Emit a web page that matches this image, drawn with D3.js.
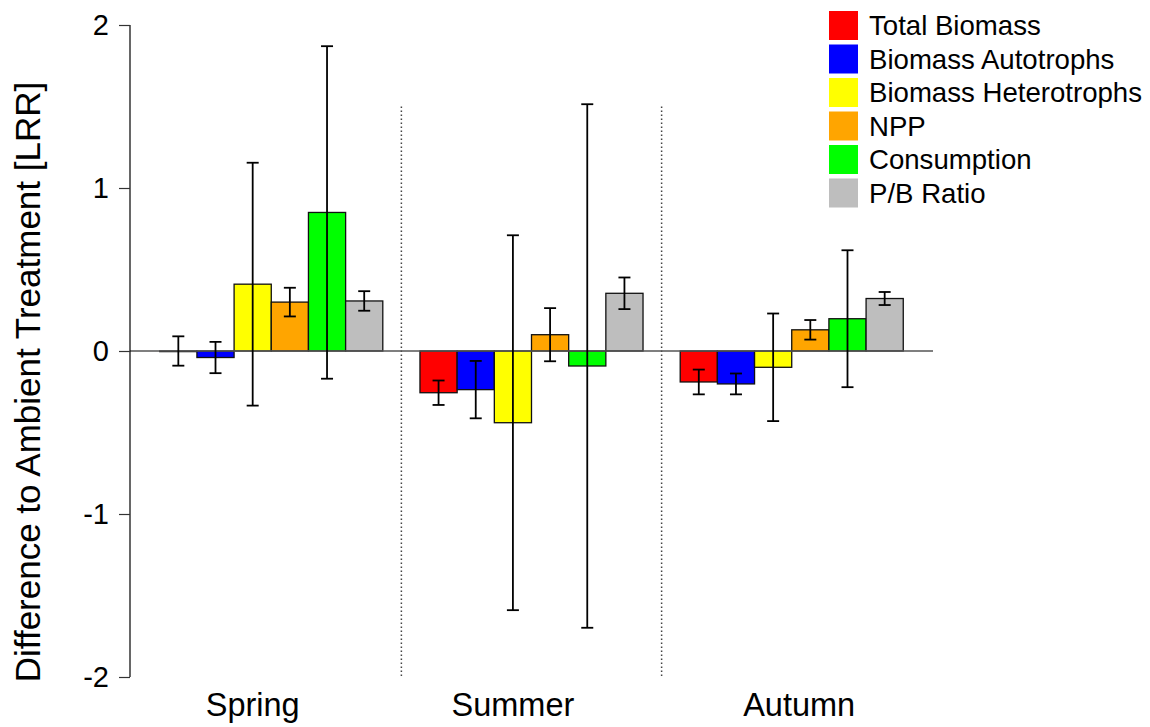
<!DOCTYPE html>
<html>
<head>
<meta charset="utf-8">
<script src="https://cdn.jsdelivr.net/npm/d3@7"></script>
<style>
  html, body { margin: 0; padding: 0; background: #fff; }
  svg { display: block; font-family: "Liberation Sans", Arial, Helvetica, sans-serif; }
</style>
</head>
<body>
<svg id="chart" width="1150" height="727"></svg>
<script>
// ---- data ----
const seasons = ["Spring", "Summer", "Autumn"];
const seriesNames = ["Total Biomass", "Biomass Autotrophs", "Biomass Heterotrophs", "NPP", "Consumption", "P/B Ratio"];
const seriesColors = ["#FF0000", "#0000FF", "#FFFF00", "#FFA500", "#00FF00", "#BEBEBE"];
const springMeans = [0.00, -0.04, 0.41, 0.30, 0.85, 0.307];
const springErrors = [0.09, 0.096, 0.745, 0.088, 1.02, 0.06];
const summerMeans = [-0.256, -0.237, -0.44, 0.10, -0.092, 0.354];
const summerErrors = [0.075, 0.176, 1.15, 0.163, 1.606, 0.097];
const autumnMeans = [-0.19, -0.202, -0.10, 0.13, 0.198, 0.322];
const autumnErrors = [0.076, 0.064, 0.33, 0.06, 0.42, 0.04];
const yTicks = [-2, -1, 0, 1, 2];
const yTickLabels = ["-2", "-1", "0", "1", "2"];
const yLabel = "Difference to Ambient Treatment [LRR]";
// label positions in bar units (barplot coordinates)
const seasonLabelPos = [3.5, 10.5, 18.2];
const separatorPos = [7.5, 14.5];

const meansBySeason = [springMeans, summerMeans, autumnMeans];
const errorsBySeason = [springErrors, summerErrors, autumnErrors];

// build table: bar at unit position (R barplot beside=TRUE, space=c(0,1))
const bars = [];
seasons.forEach((s, gi) => {
  seriesNames.forEach((n, si) => {
    const left = 1 + gi * 7 + si; // bar occupies [left, left+1]
    bars.push({ season: s, series: n, si, left, mean: meansBySeason[gi][si], err: errorsBySeason[gi][si] });
  });
});

const svg = d3.select("#chart");
const x = d3.scaleLinear().domain([0.2, 21.8]).range([130, 933]);
const y = d3.scaleLinear().domain([-2, 2]).range([677, 25]);

// separators
svg.selectAll("line.sep").data(separatorPos).join("line")
  .attr("x1", d => x(d)).attr("x2", d => x(d))
  .attr("y1", y(1.5)).attr("y2", y(-2))
  .attr("stroke", "#444").attr("stroke-width", 1.5)
  .attr("stroke-dasharray", "1.5,2.5");

// bars
svg.selectAll("rect.bar").data(bars).join("rect")
  .attr("x", d => x(d.left))
  .attr("width", d => x(d.left + 1) - x(d.left))
  .attr("y", d => y(Math.max(0, d.mean)))
  .attr("height", d => Math.max(0.6, Math.abs(y(d.mean) - y(0))))
  .attr("fill", d => seriesColors[d.si])
  .attr("stroke", "#111").attr("stroke-width", 1.3);

// zero line
svg.append("line")
  .attr("x1", x(0.2)).attr("x2", x(21.8))
  .attr("y1", y(0)).attr("y2", y(0))
  .attr("stroke", "#555").attr("stroke-width", 1.3);

// error bars
const eb = svg.append("g").attr("stroke", "#000").attr("stroke-width", 1.8);
bars.forEach(d => {
  const cx = x(d.left + 0.5);
  eb.append("line").attr("x1", cx).attr("x2", cx).attr("y1", y(d.mean + d.err)).attr("y2", y(d.mean - d.err));
  eb.append("line").attr("x1", cx - 6).attr("x2", cx + 6).attr("y1", y(d.mean + d.err)).attr("y2", y(d.mean + d.err));
  eb.append("line").attr("x1", cx - 6).attr("x2", cx + 6).attr("y1", y(d.mean - d.err)).attr("y2", y(d.mean - d.err));
});

// y axis
const yAxis = d3.axisLeft(y).tickValues(yTicks).tickSize(11).tickPadding(10)
  .tickFormat((d, i) => yTickLabels[i]);
const ga = svg.append("g").attr("transform", "translate(130,0)").call(yAxis);
ga.select(".domain").attr("stroke", "#000").attr("stroke-width", 1.2).attr("d", `M0,${y(2)}V${y(-2)}`);
ga.selectAll(".tick line").attr("stroke", "#333").attr("stroke-width", 1.2);
ga.selectAll(".tick text").attr("font-size", 29).attr("fill", "#000")
  .attr("font-family", "'Liberation Sans', Arial, sans-serif");

// y label
svg.append("text")
  .attr("transform", `translate(40,${382}) rotate(-90)`)
  .attr("text-anchor", "middle")
  .attr("font-size", 35)
  .attr("fill", "#000")
  .text(yLabel);

// season labels
svg.selectAll("text.season").data(seasons).join("text")
  .attr("x", (d, i) => x(seasonLabelPos[i]))
  .attr("y", 716)
  .attr("text-anchor", "middle")
  .attr("font-size", 32.5)
  .attr("fill", "#000")
  .text(d => d);

// legend
const lg = svg.append("g");
seriesNames.forEach((n, i) => {
  const top = 11 + i * 33.5;
  lg.append("rect").attr("x", 829).attr("y", top).attr("width", 29).attr("height", 29).attr("fill", seriesColors[i]);
  lg.append("text").attr("x", 869).attr("y", top + 24).attr("font-size", 27.6).attr("fill", "#000").text(n);
});
</script>
</body>
</html>
